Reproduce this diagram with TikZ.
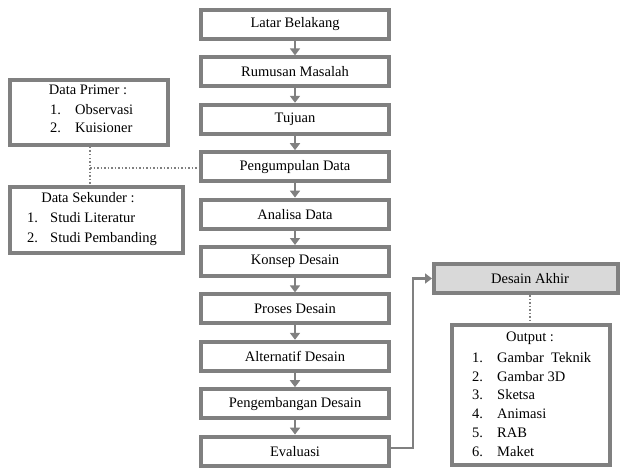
\documentclass[tikz,border=0pt]{standalone}
\usepackage{fontspec}
\setmainfont{Liberation Serif}
\usetikzlibrary{arrows.meta}
\definecolor{bord}{RGB}{128,128,128}
\definecolor{fillg}{RGB}{217,217,217}
\tikzset{
  mainbox/.style={draw=bord, line width=4pt, minimum width=188pt, minimum height=29pt, inner sep=0pt, font=\fontsize{14.5pt}{17pt}\selectfont},
  sidebox/.style={draw=bord, line width=4pt, inner sep=0pt},
  txt/.style={inner sep=0pt, font=\fontsize{14.5pt}{17pt}\selectfont},
  arr/.style={draw=bord, line width=2.8pt, -{Triangle[width=10pt,length=7pt]}},
  dotline/.style={draw=bord, line width=1.5pt, dotted},
}
\begin{document}
\begin{tikzpicture}[x=1pt,y=-1pt]
\useasboundingbox (0,0) rectangle (621,468);
% main column
\node[mainbox] (b1) at (295,24.5) {Latar Belakang};
\node[mainbox] (b2) at (295,71.9) {Rumusan Masalah};
\node[mainbox] (b3) at (295,119.3) {Tujuan};
\node[mainbox] (b4) at (295,166.7) {Pengumpulan Data};
\node[mainbox] (b5) at (295,214.1) {Analisa Data};
\node[mainbox] (b6) at (295,261.5) {Konsep Desain};
\node[mainbox] (b7) at (295,308.9) {Proses Desain};
\node[mainbox] (b8) at (295,356.3) {Alternatif Desain};
\node[mainbox] (b9) at (295,403.7) {Pengembangan Desain};
\node[mainbox] (b10) at (295,451.1) {Evaluasi};
\foreach \a/\b in {b1/b2,b2/b3,b3/b4,b4/b5,b5/b6,b6/b7,b7/b8,b8/b9,b9/b10}
  \draw[arr] (\a.south) -- (\b.north);
% left boxes
\node[sidebox, minimum width=158pt, minimum height=65pt] (prim) at (89,112.5) {};
\node[sidebox, minimum width=173pt, minimum height=66pt] (sek) at (96.5,220) {};
\node[txt] (primt) at (88,90) {Data Primer :};
\node[txt, anchor=base west] (p1n) at (50,114.5) {1.};
\node[txt, anchor=base west] (p1t) at (75,114.5) {Observasi};
\node[txt, anchor=base west] (p2n) at (50,133) {2.};
\node[txt, anchor=base west] (p2t) at (75,133) {Kuisioner};
\node[txt] (sekt) at (88,198) {Data Sekunder :};
\node[txt, anchor=base west] (s1n) at (27,222.5) {1.};
\node[txt, anchor=base west] (s1t) at (50,222.5) {Studi Literatur};
\node[txt, anchor=base west] (s2n) at (27,242.5) {2.};
\node[txt, anchor=base west] (s2t) at (50,242.5) {Studi Pembanding};
\coordinate (j) at (90,168);
\draw[dotline] (prim.south -| j) -- (sek.north -| j);
\draw[dotline] (j) -- (j -| b4.west);
% right side
\node[sidebox, fill=fillg, minimum width=184pt, minimum height=29pt, font=\fontsize{14.5pt}{17pt}\selectfont] (akhir) at (526,278.5) {\hspace*{8pt}Desain Akhir};
\node[sidebox, minimum width=158pt, minimum height=140pt] (out) at (531,395) {};
\coordinate (ev) at (391,448);
\coordinate (bend) at (413,448);
\draw[arr, line width=2.2pt] (ev) -- (bend) |- (akhir.west);
\coordinate (dtop) at (530,295);
\draw[dotline] (dtop) -- (dtop |- out.north);
\node[txt] (outt) at (530,338) {Output :};
\foreach \i/\y/\t in {1/358/Gambar\ \ Teknik,2/376.7/Gambar 3D,3/395.4/Sketsa,4/414.1/Animasi,5/432.8/RAB,6/451.5/Maket}{
  \node[txt, anchor=base west] (o\i n) at (472,\y+4.5) {\i.};
  \node[txt, anchor=base west] (o\i t) at (497,\y+4.5) {\t};
}
\end{tikzpicture}
\end{document}
